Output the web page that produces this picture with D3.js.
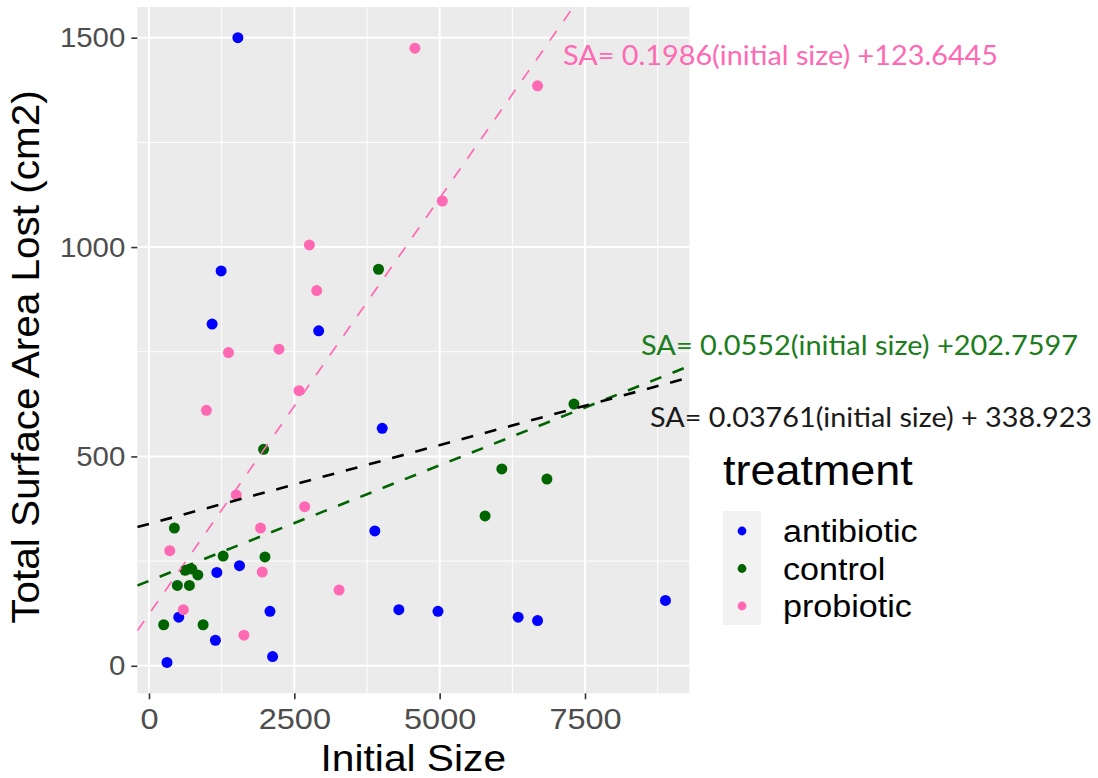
<!DOCTYPE html>
<html>
<head>
<meta charset="utf-8">
<script src="https://cdn.jsdelivr.net/npm/d3@7"></script>
<style>
  body { margin: 0; background: #ffffff; }
  svg { display: block; }
</style>
</head>
<body>
<svg id="chart" width="1098" height="778"></svg>
<script>
// Treatment groups and their point colours
const treatments = ["antibiotic", "control", "probiotic"];
const treatmentColors = ["#0000FF", "#006400", "#FF69B4"];

// Initial size (x) and total surface area lost (y) per colony
const antibioticX = [1529, 1241, 1086, 2919, 4012, 3885, 1557, 1167, 4298, 2081, 512, 1143, 2126, 310, 4971, 6350, 6684, 8884];
const antibioticY = [1500, 943, 816, 800, 567, 322, 239, 223, 134, 130, 116, 61, 22, 8, 130, 116, 108, 156];

const controlX = [3948, 1971, 437, 1276, 1995, 621, 736, 840, 488, 695, 253, 931, 7310, 6069, 6845, 5781];
const controlY = [947, 517, 329, 262, 260, 228, 231, 217, 192, 192, 98, 98, 625, 470, 446, 358];

const probioticX = [4574, 2759, 6684, 5046, 2885, 1367, 2236, 2581, 988, 1500, 2678, 1919, 357, 1948, 3270, 591, 1633];
const probioticY = [1475, 1005, 1385, 1110, 896, 748, 756, 657, 610, 408, 380, 329, 275, 224, 181, 134, 73];

// Fitted lines: probiotic, control, all colonies
const fitSlopes = [0.1986, 0.0552, 0.03761];
const fitIntercepts = [123.6445, 202.7597, 338.923];
const fitColors = ["#FF69B4", "#006400", "#000000"];
const fitLabels = [
  "SA= 0.1986(initial size) +123.6445",
  "SA= 0.0552(initial size) +202.7597",
  "SA= 0.03761(initial size) + 338.923"
];
const fitLabelColors = ["#FF69B4", "#1B7D1B", "#1A1A1A"];

// Axis ticks and limits
const xTicks = [0, 2500, 5000, 7500];
const xMinorTicks = [1250, 3750, 6250, 8750];
const yTicks = [0, 500, 1000, 1500];
const yMinorTicks = [250, 750, 1250];
const xDomain = [-201, 9294];
const yDomain = [-65.7, 1573.3];

const groupX = [antibioticX, controlX, probioticX];
const groupY = [antibioticY, controlY, probioticY];

const svg = d3.select("#chart");
const panel = { left: 137.3, right: 689.3, top: 7, bottom: 693.3 };

const x = d3.scaleLinear().domain(xDomain).range([panel.left, panel.right]);
const y = d3.scaleLinear().domain(yDomain).range([panel.bottom, panel.top]);

const axisFont = "'Liberation Sans', Arial, sans-serif";

// Widen text horizontally by a factor, keeping its anchor
function widen(sel, k) {
  sel.each(function () {
    const w = this.getComputedTextLength();
    d3.select(this).attr("textLength", w * k).attr("lengthAdjust", "spacingAndGlyphs");
  });
}

// Panel background
svg.append("rect")
  .attr("x", panel.left).attr("y", panel.top)
  .attr("width", panel.right - panel.left).attr("height", panel.bottom - panel.top)
  .attr("fill", "#EBEBEB");

const clip = svg.append("clipPath").attr("id", "panel-clip");
clip.append("rect")
  .attr("x", panel.left).attr("y", panel.top)
  .attr("width", panel.right - panel.left).attr("height", panel.bottom - panel.top);

// Grid lines
const grid = svg.append("g");
grid.selectAll(".xminor").data(xMinorTicks).join("line")
  .attr("x1", d => x(d)).attr("x2", d => x(d))
  .attr("y1", panel.top).attr("y2", panel.bottom)
  .attr("stroke", "#FFFFFF").attr("stroke-width", 1);
grid.selectAll(".yminor").data(yMinorTicks).join("line")
  .attr("y1", d => y(d)).attr("y2", d => y(d))
  .attr("x1", panel.left).attr("x2", panel.right)
  .attr("stroke", "#FFFFFF").attr("stroke-width", 1);
grid.selectAll(".xmajor").data(xTicks).join("line")
  .attr("x1", d => x(d)).attr("x2", d => x(d))
  .attr("y1", panel.top).attr("y2", panel.bottom)
  .attr("stroke", "#FFFFFF").attr("stroke-width", 2);
grid.selectAll(".ymajor").data(yTicks).join("line")
  .attr("y1", d => y(d)).attr("y2", d => y(d))
  .attr("x1", panel.left).attr("x2", panel.right)
  .attr("stroke", "#FFFFFF").attr("stroke-width", 2);

// Axes
const xAxis = d3.axisBottom(x).tickValues(xTicks).tickFormat(d3.format("d")).tickSize(6).tickPadding(9);
const gx = svg.append("g").attr("transform", `translate(0,${panel.bottom})`).call(xAxis);
gx.select(".domain").remove();
gx.selectAll(".tick line").attr("stroke", "#333333").attr("stroke-width", 1.6);
gx.selectAll(".tick text").attr("fill", "#4D4D4D")
  .style("font-family", axisFont).style("font-size", "29px");
widen(gx.selectAll(".tick text"), 1.12);

const yAxis = d3.axisLeft(y).tickValues(yTicks).tickFormat(d3.format("d")).tickSize(6).tickPadding(6);
const gy = svg.append("g").attr("transform", `translate(${panel.left},0)`).call(yAxis);
gy.select(".domain").remove();
gy.selectAll(".tick line").attr("stroke", "#333333").attr("stroke-width", 1.6);
gy.selectAll(".tick text").attr("fill", "#4D4D4D")
  .style("font-family", axisFont).style("font-size", "28px");
widen(gy.selectAll(".tick text"), 1.05);

// Points
const pointData = [];
treatments.forEach((t, i) => {
  groupX[i].forEach((v, j) => pointData.push({ t: i, x: v, y: groupY[i][j] }));
});
svg.append("g").attr("clip-path", "url(#panel-clip)")
  .selectAll("circle").data(pointData).join("circle")
  .attr("cx", d => x(d.x)).attr("cy", d => y(d.y))
  .attr("r", 5.5)
  .attr("fill", d => treatmentColors[d.t]);

// Fitted dashed lines across the whole panel
const lineGen = d3.line().x(d => x(d[0])).y(d => y(d[1]));
svg.append("g").attr("clip-path", "url(#panel-clip)")
  .selectAll("path").data(fitSlopes).join("path")
  .attr("d", (s, i) => lineGen(xDomain.map(v => [v, fitIntercepts[i] + s * v])))
  .attr("fill", "none")
  .attr("stroke", (s, i) => fitColors[i])
  .attr("stroke-width", (s, i) => i === 0 ? 1.7 : 2.6)
  .attr("stroke-dasharray", "12,12");

// Equation labels
const labelFont = "Lato, 'Open Sans', sans-serif";
const labelPos = [[563, 65, 435], [641, 355, 437], [650, 427, 442]];
svg.append("g").selectAll("text").data(fitLabels).join("text")
  .attr("x", (d, i) => labelPos[i][0])
  .attr("y", (d, i) => labelPos[i][1])
  .attr("textLength", (d, i) => labelPos[i][2])
  .attr("lengthAdjust", "spacingAndGlyphs")
  .attr("fill", (d, i) => fitLabelColors[i])
  .style("font-family", labelFont).style("font-size", "27px")
  .text(d => d);

// Axis titles
const xTitle = svg.append("text")
  .attr("x", (panel.left + panel.right) / 2).attr("y", 771)
  .attr("text-anchor", "middle").attr("fill", "#000000")
  .style("font-family", axisFont).style("font-size", "37px")
  .text("Initial Size");
widen(xTitle, 1.1);

const yTitle = svg.append("text")
  .attr("transform", `translate(39,357) rotate(-90)`)
  .attr("text-anchor", "middle").attr("fill", "#000000")
  .style("font-family", axisFont).style("font-size", "38px")
  .text("Total Surface Area Lost (cm2)");
widen(yTitle, 1.066);

// Legend
const legend = svg.append("g");
const legendTitle = legend.append("text")
  .attr("x", 723).attr("y", 485)
  .attr("fill", "#000000")
  .style("font-family", axisFont).style("font-size", "42px")
  .text("treatment");
widen(legendTitle, 1.07);
legend.append("rect")
  .attr("x", 723).attr("y", 511).attr("width", 38).attr("height", 114)
  .attr("fill", "#F2F2F2");
const legendRow = d3.scalePoint().domain(treatments).range([531, 606]);
legend.selectAll("circle").data(treatments).join("circle")
  .attr("cx", 742).attr("cy", d => legendRow(d))
  .attr("r", 4.4)
  .attr("fill", (d, i) => treatmentColors[i]);
const legendLabels = legend.selectAll(".lab").data(treatments).join("text")
  .attr("class", "lab")
  .attr("x", 783).attr("y", d => legendRow(d) + 11)
  .attr("fill", "#000000")
  .style("font-family", axisFont).style("font-size", "31px")
  .text(d => d);
widen(legendLabels, 1.1);
</script>
</body>
</html>
